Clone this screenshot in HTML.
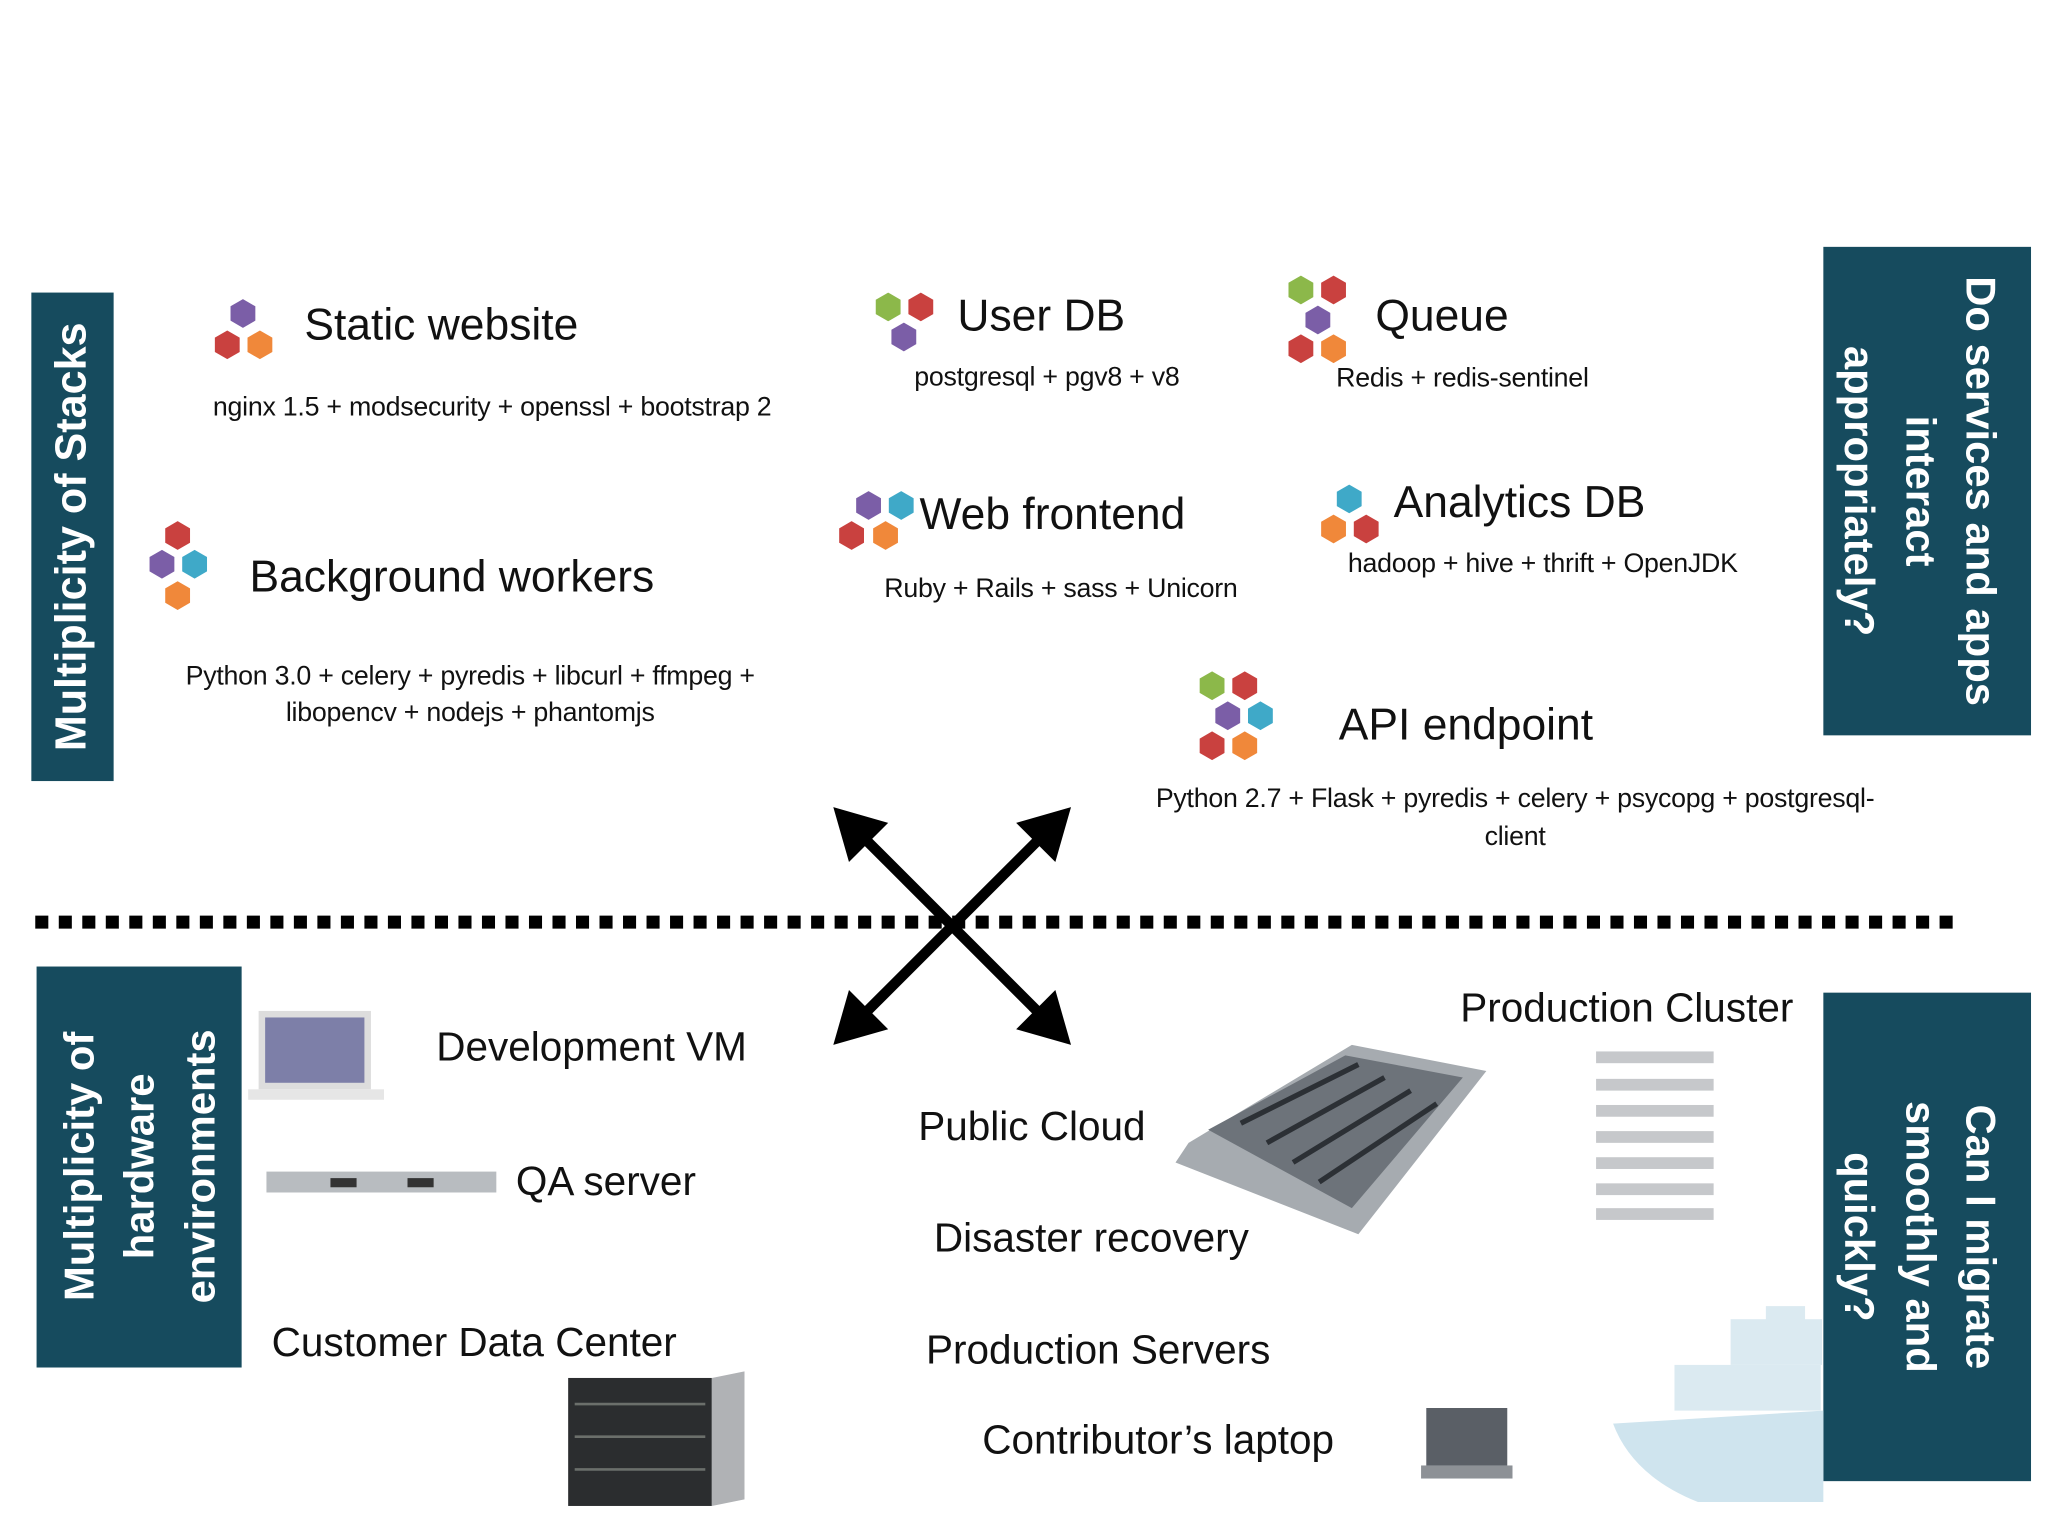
<!DOCTYPE html>
<html><head><meta charset="utf-8"><style>
html,body{margin:0;padding:0;background:#fff;}
#wrap{width:2048px;height:1536px;overflow:hidden;position:relative;}
#c{position:absolute;left:0;top:0;width:1568px;height:1176px;transform:scale(1.306122);transform-origin:0 0;font-family:"Liberation Sans",sans-serif;color:#111;}
.t{position:absolute;white-space:nowrap;line-height:1;}
.h{font-size:34px;}
.s{font-size:20.5px;letter-spacing:-0.2px;}
.b{font-size:31px;}
.box{position:absolute;background:#164b5e;}
.vt{position:absolute;color:#fff;font-weight:bold;white-space:nowrap;text-align:center;line-height:1.3;}
</style></head><body><div id="wrap"><div id="c">

<div class="box" style="left:24px;top:224px;width:63px;height:374px"></div>
<div class="vt" style="left:55px;top:411px;font-size:33px;transform:translate(-50%,-50%) rotate(-90deg)">Multiplicity of Stacks</div>

<div class="box" style="left:1396px;top:189px;width:159px;height:374px"></div>
<div class="vt" style="left:1470px;top:376px;font-size:32px;line-height:1.45;transform:translate(-50%,-50%) rotate(90deg)">Do services and apps<br>interact<br>appropriately?</div>

<div class="box" style="left:28px;top:740px;width:157px;height:307px"></div>
<div class="vt" style="left:107px;top:893px;font-size:32px;line-height:1.45;transform:translate(-50%,-50%) rotate(-90deg)">Multiplicity of<br>hardware<br>environments</div>

<div class="box" style="left:1396px;top:760px;width:159px;height:374px"></div>
<div class="vt" style="left:1470px;top:947px;font-size:32px;line-height:1.45;transform:translate(-50%,-50%) rotate(90deg)">Can I migrate<br>smoothly and<br>quickly?</div>

<svg style="position:absolute;left:0;top:0" width="1568" height="1176">
<defs>
<g id="hx"><polygon points="0,-11 9.5,-5.5 9.5,5.5 0,11 -9.5,5.5 -9.5,-5.5"/></g>
</defs>
<line x1="27" y1="706" x2="1497" y2="706" stroke="#000" stroke-width="10" stroke-dasharray="10,8"/>
<line x1="655" y1="635" x2="803" y2="783" stroke="#000" stroke-width="8"/>
<line x1="803" y1="635" x2="655" y2="783" stroke="#000" stroke-width="8"/>
<polygon points="638,618 680,630 650,660" fill="#000"/>
<polygon points="820,618 778,630 808,660" fill="#000"/>
<polygon points="638,800 650,758 680,788" fill="#000"/>
<polygon points="820,800 808,758 778,788" fill="#000"/>
<g fill="#7b5ea7"><use href="#hx" x="186" y="240"/><use href="#hx" x="692" y="258"/><use href="#hx" x="1009" y="245"/><use href="#hx" x="665" y="387"/><use href="#hx" x="124" y="432"/><use href="#hx" x="940" y="548"/></g>
<g fill="#c9413f"><use href="#hx" x="174" y="264"/><use href="#hx" x="705" y="235"/><use href="#hx" x="1021" y="222"/><use href="#hx" x="996" y="267"/><use href="#hx" x="652" y="410"/><use href="#hx" x="1046" y="405"/><use href="#hx" x="136" y="410"/><use href="#hx" x="953" y="525"/><use href="#hx" x="928" y="571"/></g>
<g fill="#f0883a"><use href="#hx" x="199" y="264"/><use href="#hx" x="1021" y="267"/><use href="#hx" x="678" y="410"/><use href="#hx" x="1021" y="405"/><use href="#hx" x="136" y="456"/><use href="#hx" x="953" y="571"/></g>
<g fill="#8cb84a"><use href="#hx" x="680" y="235"/><use href="#hx" x="996" y="222"/><use href="#hx" x="928" y="525"/></g>
<g fill="#3fa9c8"><use href="#hx" x="690" y="387"/><use href="#hx" x="1033" y="382"/><use href="#hx" x="149" y="432"/><use href="#hx" x="965" y="548"/></g>
<rect x="198" y="774" width="86" height="60" fill="#ddd"/><rect x="203" y="779" width="76" height="50" fill="#7d7fa8"/><rect x="190" y="834" width="104" height="8" fill="#e6e6e6"/>
<rect x="204" y="897" width="176" height="16" fill="#b8bcc0"/><rect x="253" y="902" width="20" height="7" fill="#333"/><rect x="312" y="902" width="20" height="7" fill="#333"/>
<polygon points="910,875 1035,800 1138,820 1040,945 900,890" fill="#a6abb0"/><polygon points="925,865 1030,808 1120,825 1035,925" fill="#6d737a"/>
<g stroke="#2c3035" stroke-width="4"><line x1="950" y1="860" x2="1040" y2="815"/><line x1="970" y1="875" x2="1060" y2="825"/><line x1="990" y1="890" x2="1080" y2="835"/><line x1="1010" y1="905" x2="1100" y2="845"/></g>
<g fill="#c6c8cb"><rect x="1222" y="805" width="90" height="9"/><rect x="1222" y="826" width="90" height="9"/><rect x="1222" y="846" width="90" height="9"/><rect x="1222" y="866" width="90" height="9"/><rect x="1222" y="886" width="90" height="9"/><rect x="1222" y="906" width="90" height="9"/><rect x="1222" y="925" width="90" height="9"/></g>
<rect x="435" y="1055" width="110" height="98" fill="#2b2d2f"/><polygon points="545,1055 570,1050 570,1148 545,1153" fill="#b0b2b5"/>
<g stroke="#6b6f6b" stroke-width="2"><line x1="440" y1="1075" x2="540" y2="1075"/><line x1="440" y1="1100" x2="540" y2="1100"/><line x1="440" y1="1125" x2="540" y2="1125"/></g>
<rect x="1092" y="1078" width="62" height="44" fill="#5a5f66"/><rect x="1088" y="1122" width="70" height="10" fill="#8d9196"/>
<path d="M1235,1090 L1396,1080 L1396,1150 L1300,1150 Q1250,1130 1235,1090Z" fill="#cfe4ee"/>
<g fill="#dbeaf1"><rect x="1282" y="1045" width="112" height="35"/><rect x="1325" y="1010" width="70" height="35"/><rect x="1352" y="1000" width="30" height="12"/></g>
</svg>

<div class="t h" style="left:233px;top:232px">Static website</div>
<div class="t s" style="left:163px;top:302px">nginx 1.5 + modsecurity + openssl + bootstrap 2</div>
<div class="t h" style="left:733px;top:225px">User DB</div>
<div class="t s" style="left:700px;top:279px">postgresql + pgv8 + v8</div>
<div class="t h" style="left:1053px;top:225px">Queue</div>
<div class="t s" style="left:1023px;top:280px">Redis + redis-sentinel</div>
<div class="t h" style="left:704px;top:377px">Web frontend</div>
<div class="t s" style="left:677px;top:441px">Ruby + Rails + sass + Unicorn</div>
<div class="t h" style="left:1067px;top:368px">Analytics DB</div>
<div class="t s" style="left:1032px;top:422px">hadoop + hive + thrift + OpenJDK</div>
<div class="t h" style="left:191px;top:425px">Background workers</div>
<div class="t s" style="left:360px;top:504px;transform:translateX(-50%);text-align:center;line-height:28px">Python 3.0 + celery + pyredis + libcurl + ffmpeg +<br>libopencv + nodejs + phantomjs</div>
<div class="t h" style="left:1025px;top:538px">API endpoint</div>
<div class="t s" style="left:1160px;top:597px;transform:translateX(-50%);text-align:center;line-height:29px">Python 2.7 + Flask + pyredis + celery + psycopg + postgresql-<br>client</div>

<div class="t b" style="left:334px;top:786px">Development VM</div>
<div class="t b" style="left:395px;top:889px">QA server</div>
<div class="t b" style="left:208px;top:1012px">Customer Data Center</div>
<div class="t b" style="left:703px;top:847px">Public Cloud</div>
<div class="t b" style="left:715px;top:932px">Disaster recovery</div>
<div class="t b" style="left:709px;top:1018px">Production Servers</div>
<div class="t b" style="left:752px;top:1087px">Contributor’s laptop</div>
<div class="t b" style="left:1118px;top:756px">Production Cluster</div>

</div></div></body></html>
